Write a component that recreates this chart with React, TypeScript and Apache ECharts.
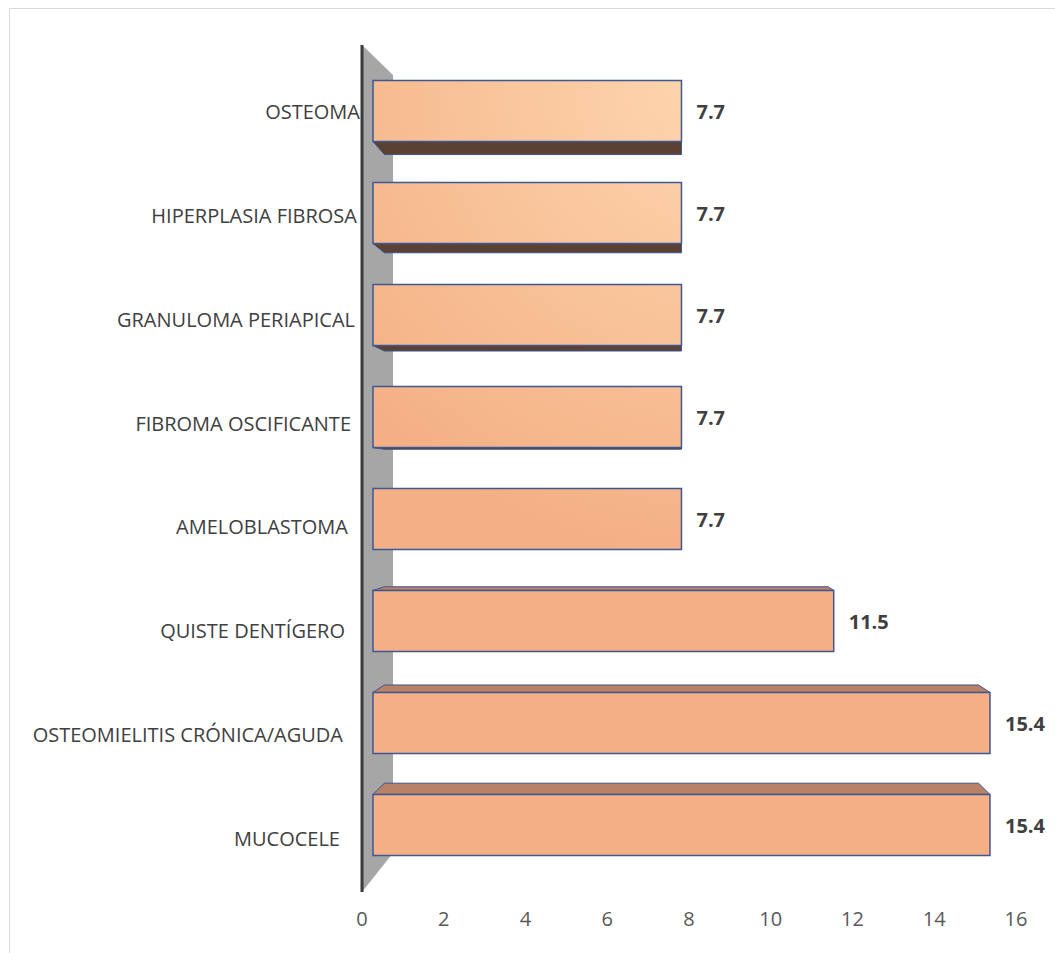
import React, { useEffect, useRef } from "react";
import * as echarts from "echarts";

const categories = [
  "MUCOCELE",
  "OSTEOMIELITIS CRÓNICA/AGUDA",
  "QUISTE DENTÍGERO",
  "AMELOBLASTOMA",
  "FIBROMA OSCIFICANTE",
  "GRANULOMA PERIAPICAL",
  "HIPERPLASIA FIBROSA",
  "OSTEOMA",
];
const values = [15.4, 15.4, 11.5, 7.7, 7.7, 7.7, 7.7, 7.7];
const xMin = 0;
const xMax = 16;
const xInterval = 2;

const FONT = "'Open Sans', 'Noto Sans', sans-serif";
const labelPad = [20, 17, 15, 12, 9, 5, 3, 0];

export default function App() {
  const ref = useRef<HTMLDivElement>(null);
  useEffect(() => {
    document.body.style.margin = "0";
    const chart = echarts.init(ref.current!, null, { renderer: "svg" });
    const rich: any = {};
    labelPad.forEach((p, i) => {
      rich["r" + i] = {
        color: "#404040",
        fontSize: 20,
        fontFamily: FONT,
        padding: [0, p, 0, 0],
      };
    });
    const frontFill = new echarts.graphic.RadialGradient(
      720,
      80,
      480,
      [
        { offset: 0, color: "#fed7b0" },
        { offset: 1, color: "#f4b084" },
      ],
      true
    );
    const option: any = {
      animation: false,
      backgroundColor: "#ffffff",
      graphic: [
        {
          type: "rect",
          shape: { x: 9.5, y: 8.5, width: 1060, height: 1000 },
          style: { fill: "none", stroke: "#d9d9d9", lineWidth: 1 },
          silent: true,
          z: -10,
        },
      ],
      grid: [
        { left: 362, right: 39, top: 60, height: 830 },
        { left: 373, right: 41, top: 60, height: 816 },
      ],
      xAxis: [
        {
          gridIndex: 0,
          type: "value",
          min: xMin,
          max: xMax,
          interval: xInterval,
          axisLine: { show: false },
          axisTick: { show: false },
          splitLine: { show: false },
          axisLabel: {
            color: "#595959",
            fontSize: 20,
            fontFamily: FONT,
            margin: 18,
          },
        },
        {
          gridIndex: 1,
          type: "value",
          min: xMin,
          max: xMax,
          interval: xInterval,
          show: false,
        },
      ],
      yAxis: [
        {
          gridIndex: 0,
          type: "category",
          data: categories,
          axisLine: { show: false },
          axisTick: { show: false },
          splitLine: { show: false },
          axisLabel: {
            margin: 2,
            formatter: (v: string, i: number) => `{r${i}|${v}}`,
            rich,
          },
        },
        {
          gridIndex: 1,
          type: "category",
          data: categories,
          show: false,
        },
      ],
      series: [
        {
          type: "custom",
          xAxisIndex: 0,
          yAxisIndex: 0,
          silent: true,
          data: [[0, 0]],
          renderItem: (params: any) => {
            const cs = params.coordSys;
            const x = cs.x;
            const y = cs.y;
            const h = cs.height;
            return {
              type: "group",
              children: [
                {
                  type: "polygon",
                  shape: {
                    points: [
                      [x, y - 15],
                      [x + 31, y + 15],
                      [x + 31, y + h - 37],
                      [x, y + h + 2],
                    ],
                  },
                  style: { fill: "#a6a6a6" },
                },
                {
                  type: "line",
                  shape: { x1: x, y1: y - 15, x2: x, y2: y + h + 2 },
                  style: { stroke: "#3a3a3a", lineWidth: 3 },
                },
              ],
            };
          },
        },
        {
          type: "custom",
          xAxisIndex: 1,
          yAxisIndex: 1,
          silent: true,
          encode: { x: 0, y: 1 },
          data: values.map((v, i) => [v, i]),
          renderItem: (params: any, api: any) => {
            const v = api.value(0);
            const cat = api.value(1);
            const cs = params.coordSys;
            const p0 = api.coord([0, cat]);
            const p1 = api.coord([v, cat]);
            const bh = api.size([0, 1])[1] * 0.6;
            const xL = p0[0];
            const xR = p1[0];
            const yT = p0[1] - bh / 2;
            const yB = p0[1] + bh / 2;
            const vx = cs.x + cs.width * 0.48;
            const vy = cs.y + cs.height * 0.529;
            const k = 0.963;
            const back = (px: number, py: number) => [
              vx + k * (px - vx),
              vy + k * (py - vy),
            ];
            const children: any[] = [];
            if (yB < vy) {
              children.push({
                type: "polygon",
                shape: {
                  points: [[xL, yB], [xR, yB], back(xR, yB), back(xL, yB)],
                },
                style: { fill: "#5b4133", stroke: "#3f548c", lineWidth: 1 },
              });
            }
            if (yT > vy) {
              children.push({
                type: "polygon",
                shape: {
                  points: [[xL, yT], [xR, yT], back(xR, yT), back(xL, yT)],
                },
                style: { fill: "#b98166", stroke: "#3f548c", lineWidth: 1 },
              });
            }
            children.push({
              type: "rect",
              shape: { x: xL, y: yT, width: xR - xL, height: yB - yT },
              style: { fill: frontFill, stroke: "#3f5795", lineWidth: 1.5 },
            });
            children.push({
              type: "text",
              x: xR + 15,
              y: p0[1],
              style: {
                text: String(v),
                fill: "#404040",
                fontSize: 20,
                fontWeight: "bold",
                fontFamily: FONT,
                verticalAlign: "middle",
                align: "left",
              },
            });
            return { type: "group", children };
          },
        },
      ],
    };
    chart.setOption(option);
    return () => chart.dispose();
  }, []);
  return (
    <div
      ref={ref}
      style={{ width: 1055, height: 953, overflow: "hidden", background: "#fff" }}
    />
  );
}
